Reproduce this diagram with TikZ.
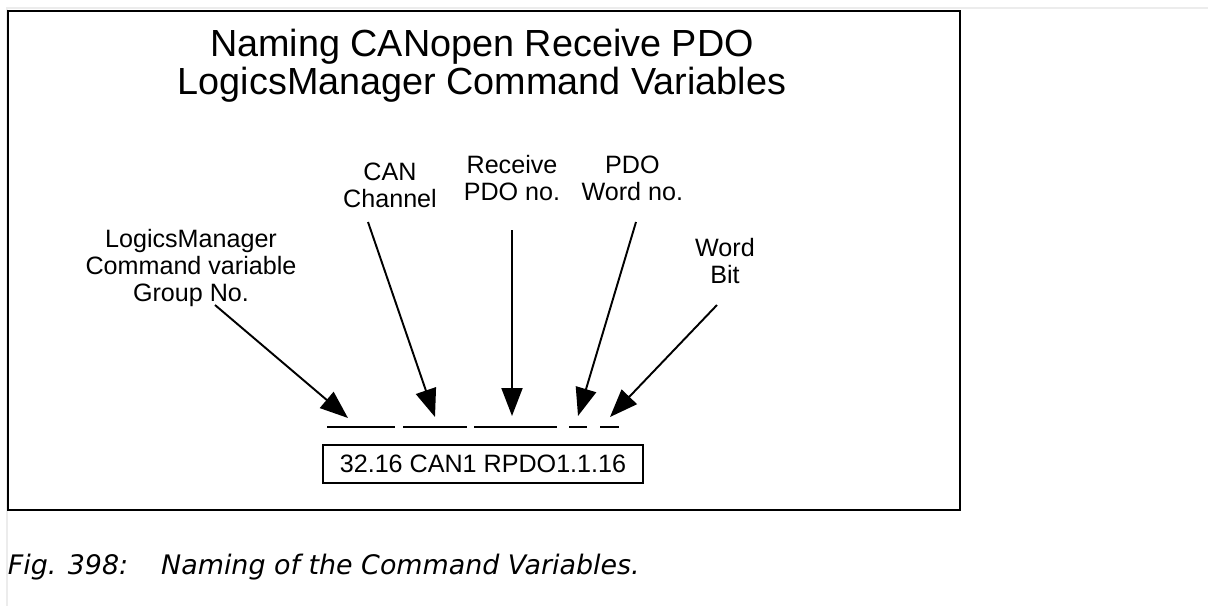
\documentclass[tikz,border=0pt]{standalone}
\usepackage{fontspec}
\setmainfont{Liberation Sans}
\newfontfamily\capfont{DejaVu Sans}
\usetikzlibrary{arrows.meta,positioning}

\begin{document}
\begin{tikzpicture}[x=0.02cm, y=-0.02cm, >={Triangle[length=0.56cm, width=0.42cm]}, every text node part/.style={align=center}, line width=1.1pt,
    lbl/.style={inner sep=0pt, font=\fontsize{14.3}{15.4}\selectfont},
    seg/.style={line width=1.3pt}]
    \useasboundingbox (0,0) rectangle (1208,606);
    \draw [gray!15, line width=0.6pt] (7,606) -- (7,8) -- (1208,8);
    \draw [line width=1.2pt] (8,11) rectangle (960,510);

    \node [inner sep=0pt, font=\fontsize{21.5}{21.6}\selectfont] (title) at (482,66) {Naming CANopen Receive PDO\\LogicsManager Command Variables};

    \node [lbl] (group) at (191,268) {LogicsManager\\Command variable\\Group No.};
    \node [lbl] (chan) at (390,185) {CAN\\Channel};
    \node [lbl] (rpdo) at (512,178) {Receive\\PDO no.};
    \node [lbl, right=0.39cm of rpdo] (word) {PDO\\Word no.};
    \node [lbl] (bit) at (725,261) {Word\\Bit};

    \node [draw, rectangle, lbl, minimum width=6.4cm, minimum height=0.76cm] (code) at (483,464) {32.16 CAN1 RPDO1.1.16};

    % blanks over the name
    \foreach \a/\b in {327/395, 403/467, 474/557, 569/587, 600/619}
        \draw [seg] (\a,427) -- (\b,427);

    \coordinate (groupFrom) at (215,305);
    \coordinate (groupTo) at (348,418);
    \coordinate (chanFrom) at (368,222);
    \coordinate (chanTo) at (435,417);
    \coordinate (rpdoFrom) at (512,230);
    \coordinate (rpdoTo) at (512,416);
    \coordinate (wordFrom) at (636,222);
    \coordinate (wordTo) at (578,416);
    \coordinate (bitFrom) at (717,305);
    \coordinate (bitTo) at (610,417);

    \draw [->] (groupFrom) -- (groupTo);
    \draw [->] (chanFrom) -- (chanTo);
    \draw [->] (rpdoFrom) -- (rpdoTo);
    \draw [->] (wordFrom) -- (wordTo);
    \draw [->] (bitFrom) -- (bitTo);

    \node [anchor=base west, inner sep=0pt, font=\capfont\itshape\fontsize{15.3}{18}\selectfont] (caption) at (7,574) {Fig. 398:\hspace{0.66cm}Naming of the Command Variables.};
\end{tikzpicture}
\end{document}
